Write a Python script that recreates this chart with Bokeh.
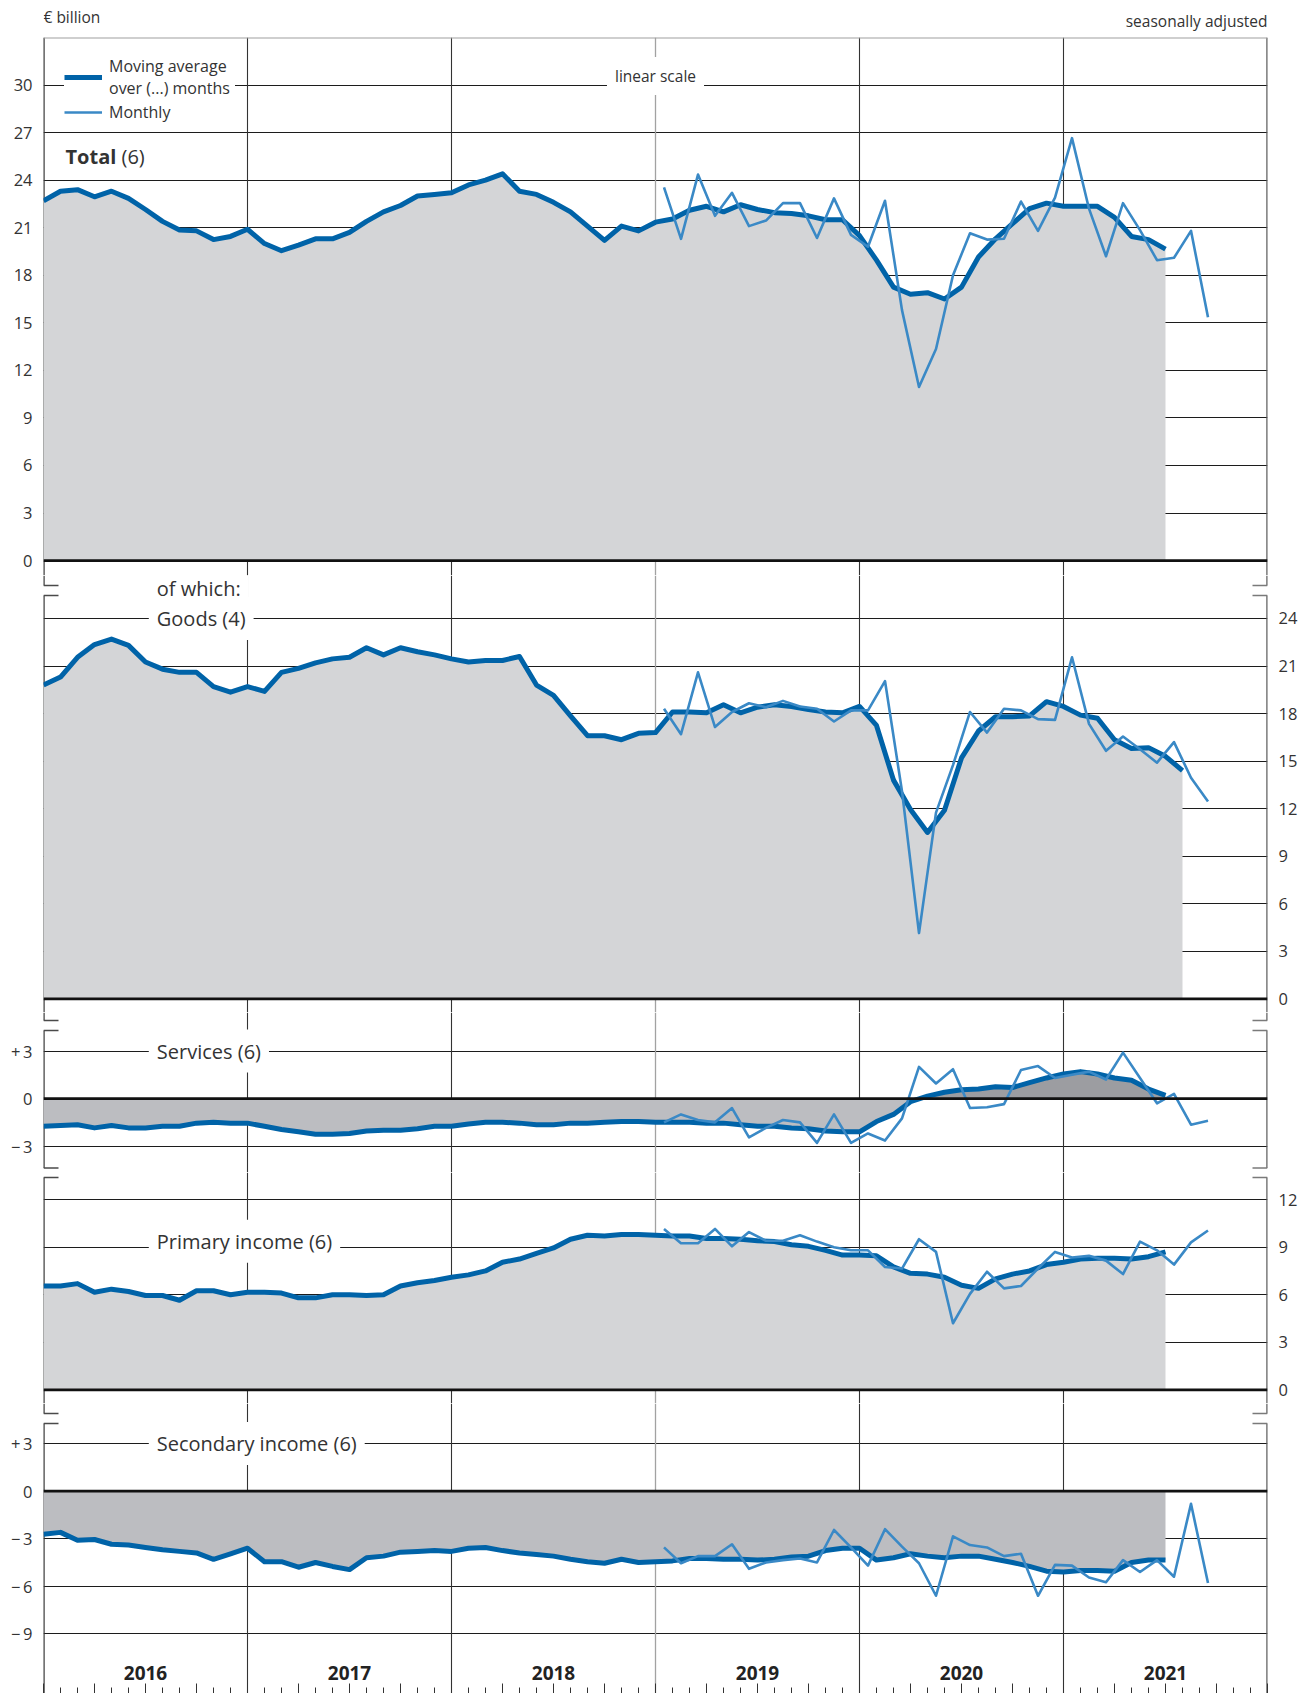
import numpy as np
from bokeh.plotting import figure
from bokeh.models import (Range1d, FixedTicker, Span, Label, Legend, LegendItem,
                          Grid, CustomJSTickFormatter)
from bokeh.layouts import column
from bokeh.embed import file_html
from bokeh.resources import INLINE
from bokeh.core.properties import value

# ---------------- data: € billion, seasonally adjusted ----------------
years = ["2016", "2017", "2018", "2019", "2020", "2021"]

# centred moving averages, one value per month boundary from Jan 2016
total_ma = [22.7, 23.3, 23.4, 22.95, 23.3, 22.85, 22.15, 21.4, 20.85, 20.8,
            20.25, 20.45, 20.9, 20.0, 19.55, 19.9, 20.3, 20.3, 20.7, 21.4,
            22.0, 22.4, 23.0, 23.1, 23.2, 23.7, 24.0, 24.4, 23.3, 23.1,
            22.6, 22.0, 21.1, 20.2, 21.1, 20.8, 21.35, 21.55, 22.1, 22.35,
            22.0, 22.45, 22.15, 21.95, 21.9, 21.75, 21.5, 21.5, 20.5, 18.95,
            17.25, 16.8, 16.9, 16.5, 17.25, 19.15, 20.3, 21.25, 22.2, 22.55,
            22.35, 22.35, 22.35, 21.65, 20.45, 20.25, 19.65]
goods_ma = [19.8, 20.3, 21.55, 22.35, 22.7, 22.3, 21.25, 20.8, 20.6, 20.6,
            19.7, 19.35, 19.7, 19.4, 20.6, 20.85, 21.2, 21.45, 21.55, 22.15,
            21.7, 22.15, 21.9, 21.7, 21.45, 21.25, 21.35, 21.35, 21.6, 19.8,
            19.15, 17.85, 16.6, 16.6, 16.35, 16.75, 16.8, 18.1, 18.1, 18.05,
            18.55, 18.05, 18.4, 18.55, 18.45, 18.25, 18.1, 18.05, 18.45, 17.25,
            13.8, 11.95, 10.5, 11.9, 15.2, 16.9, 17.8, 17.8, 17.85, 18.75,
            18.45, 17.9, 17.7, 16.35, 15.8, 15.85, 15.3, 14.4]
services_ma = [-1.75, -1.7, -1.65, -1.85, -1.7, -1.85, -1.85, -1.75, -1.75, -1.55,
               -1.5, -1.55, -1.55, -1.75, -1.95, -2.1, -2.25, -2.25, -2.2, -2.05,
               -2.0, -2.0, -1.9, -1.75, -1.75, -1.6, -1.5, -1.5, -1.55, -1.65,
               -1.65, -1.55, -1.55, -1.5, -1.45, -1.45, -1.5, -1.5, -1.5, -1.55,
               -1.55, -1.65, -1.75, -1.75, -1.85, -1.9, -2.05, -2.1, -2.1, -1.45,
               -1.0, -0.2, 0.15, 0.4, 0.55, 0.6, 0.75, 0.7, 1.0, 1.3,
               1.55, 1.7, 1.55, 1.3, 1.15, 0.6, 0.2]
primary_ma = [6.55, 6.55, 6.7, 6.15, 6.35, 6.2, 5.95, 5.95, 5.65, 6.25,
              6.25, 6.0, 6.15, 6.15, 6.1, 5.8, 5.8, 6.0, 6.0, 5.95,
              6.0, 6.55, 6.75, 6.9, 7.1, 7.25, 7.5, 8.05, 8.25, 8.6,
              8.95, 9.5, 9.75, 9.7, 9.8, 9.8, 9.75, 9.7, 9.7, 9.55,
              9.55, 9.5, 9.4, 9.35, 9.15, 9.05, 8.8, 8.5, 8.5, 8.45,
              7.75, 7.35, 7.3, 7.1, 6.6, 6.4, 7.0, 7.3, 7.5, 7.9,
              8.05, 8.25, 8.3, 8.3, 8.25, 8.4, 8.7]
secondary_ma = [-2.72, -2.6, -3.1, -3.05, -3.35, -3.4, -3.55, -3.7, -3.8, -3.9,
                -4.3, -3.95, -3.6, -4.45, -4.45, -4.8, -4.5, -4.75, -4.95, -4.2,
                -4.1, -3.85, -3.8, -3.75, -3.8, -3.6, -3.55, -3.75, -3.9, -4.0,
                -4.1, -4.3, -4.45, -4.55, -4.3, -4.5, -4.45, -4.4, -4.25, -4.25,
                -4.3, -4.3, -4.35, -4.3, -4.15, -4.1, -3.75, -3.6, -3.6, -4.35,
                -4.2, -3.95, -4.1, -4.2, -4.1, -4.1, -4.3, -4.5, -4.75, -5.05,
                -5.1, -5.0, -5.0, -5.05, -4.5, -4.35, -4.35]

# monthly values, Jan 2019 - Sep 2021
monthly_first = 36  # months after Jan 2016
total_monthly = [23.55, 20.3, 24.35, 21.75, 23.2, 21.1, 21.45, 22.55, 22.55, 20.35,
                 22.85, 20.55, 19.8, 22.7, 15.8, 10.95, 13.35, 18.0, 20.65, 20.25,
                 20.3, 22.65, 20.8, 22.9, 26.65, 22.2, 19.2, 22.55, 20.85, 18.95,
                 19.1, 20.8, 15.35]
goods_monthly = [18.3, 16.7, 20.6, 17.15, 18.1, 18.65, 18.4, 18.8, 18.45, 18.3,
                 17.5, 18.2, 18.2, 20.05, 13.1, 4.15, 11.75, 14.75, 18.1, 16.8,
                 18.3, 18.2, 17.65, 17.6, 21.55, 17.35, 15.65, 16.55, 15.75, 14.9,
                 16.2, 13.95, 12.45]
services_monthly = [-1.5, -1.0, -1.35, -1.5, -0.6, -2.45, -1.85, -1.35, -1.5, -2.8,
                    -1.0, -2.8, -2.2, -2.65, -1.25, 2.0, 0.95, 1.85, -0.6, -0.55,
                    -0.35, 1.8, 2.05, 1.3, 1.5, 1.7, 1.2, 2.9, 1.3, -0.3,
                    0.3, -1.65, -1.4]
primary_monthly = [10.15, 9.25, 9.25, 10.15, 9.05, 9.95, 9.4, 9.4, 9.75, 9.35,
                   9.0, 8.8, 8.8, 7.75, 7.65, 9.5, 8.7, 4.2, 6.05, 7.45,
                   6.4, 6.55, 7.65, 8.7, 8.35, 8.45, 8.15, 7.3, 9.35, 8.8,
                   7.9, 9.3, 10.05]
secondary_monthly = [-3.55, -4.55, -4.1, -4.1, -3.35, -4.9, -4.5, -4.35, -4.25, -4.5,
                     -2.45, -3.55, -4.7, -2.4, -3.5, -4.55, -6.6, -2.85, -3.4, -3.55,
                     -4.1, -3.95, -6.6, -4.65, -4.7, -5.45, -5.75, -4.35, -5.1, -4.35,
                     -5.4, -0.8, -5.8]

# ---------------- styling ----------------
FONT = "Open Sans"
TXT = "#333333"
MA_COLOR = "#0063a8"
MON_COLOR = "#3a89c6"
FILL_LIGHT = "#d4d5d7"
FILL_NEG = "#bcbdc1"
FILL_DARK = "#9c9da1"
GRID_COLOR = "#1c1c1c"
PX = 15.85            # pixels per € billion
FRAME_W = 1224
N_MONTHS = 72
BORDER_L = 43
BORDER_R = 32
TICK_LEN = 15 / (FRAME_W / N_MONTHS)
LABEL_PAD = 8


def signed_formatter():
    return CustomJSTickFormatter(code="""
        if (tick > 0) return '+\u2009' + tick;
        if (tick < 0) return '\u2212\u2009' + Math.abs(tick);
        return '0';
    """)


def panel(y_top, fh, side, ticks, grids, pieces, signed=False, with_xaxis=False):
    y_bot = y_top - fh / PX
    p = figure(frame_width=FRAME_W, frame_height=fh,
               x_range=Range1d(0, N_MONTHS), y_range=Range1d(y_bot, y_top),
               x_axis_location="below" if with_xaxis else None,
               y_axis_location=side, title=None,
               toolbar_location=None, output_backend="svg",
               min_border_left=BORDER_L, min_border_right=BORDER_R,
               min_border_top=0, min_border_bottom=0,
               outline_line_color=None, background_fill_color="white",
               border_fill_color="white")
    p.grid.visible = False
    ax = p.yaxis[0]
    ax.ticker = FixedTicker(ticks=ticks)
    if signed:
        ax.formatter = signed_formatter()
    ax.axis_line_color = None
    ax.major_tick_in = 0
    ax.major_tick_out = 0
    ax.minor_tick_line_color = None
    ax.major_tick_line_color = None
    ax.major_label_standoff = 11
    ax.major_label_text_font = FONT
    ax.major_label_text_font_size = "16.5px"
    ax.major_label_text_color = TXT

    p.add_layout(Grid(dimension=1, ticker=FixedTicker(ticks=grids),
                      grid_line_color=GRID_COLOR, grid_line_width=1.1))
    p.add_layout(Grid(dimension=0, ticker=FixedTicker(ticks=[12, 24, 48, 60]),
                      grid_line_color="#333333", grid_line_width=1.1))
    p.add_layout(Grid(dimension=0, ticker=FixedTicker(ticks=[36]),
                      grid_line_color="#a2a2a2", grid_line_width=1.3))

    def yp(px):
        return y_top - px / PX

    for (a, b, ta, tb) in pieces:
        for xb, xt, col, tcol in ((0, TICK_LEN, "#3a3a3a", "#4a4a4a"),
                                  (N_MONTHS, N_MONTHS - TICK_LEN, "#5a5a5a", "#7a7a7a")):
            p.segment(x0=[xb], y0=[yp(a)], x1=[xb], y1=[yp(b)],
                      line_color=col, line_width=2.4)
            if ta:
                p.segment(x0=[xb], y0=[yp(a)], x1=[xt], y1=[yp(a)],
                          line_color=tcol, line_width=1.4)
            if tb:
                p.segment(x0=[xb], y0=[yp(b)], x1=[xt], y1=[yp(b)],
                          line_color=tcol, line_width=1.4)
    return p


def series(p, ma, monthly, pos_fill, neg_fill):
    k = np.arange(len(ma))
    ma_arr = np.array(ma)
    if pos_fill is not None:
        p.varea(x=k, y1=0, y2=np.maximum(ma_arr, 0), fill_color=pos_fill)
    if neg_fill is not None:
        p.varea(x=k, y1=0, y2=np.minimum(ma_arr, 0), fill_color=neg_fill)
    p.add_layout(Span(location=0, dimension="width", line_color="#111111",
                      line_width=2.8))
    r_ma = p.line(k, ma_arr, line_color=MA_COLOR, line_width=5, line_join="round")
    xm = monthly_first + 0.5 + np.arange(len(monthly))
    r_mon = p.line(xm, monthly, line_color=MON_COLOR, line_width=2.6, line_join="round")
    return r_ma, r_mon


def panel_label(p, x, y, text, size="20px", bold=False, bg=True, yoff=0, xoff=0):
    lab = Label(x=x, y=y, text=text, text_font=FONT, text_font_size=size,
                text_color=TXT, text_baseline="middle", text_align="left",
                x_offset=xoff - (LABEL_PAD if bg else 0), y_offset=yoff,
                text_font_style="bold" if bold else "normal")
    if bg:
        lab.background_fill_color = "white"
        lab.padding = LABEL_PAD
    p.add_layout(lab)
    return lab


LX = (156 - 42.7) / (FRAME_W / N_MONTHS)   # left edge of panel captions

# ---- header with unit / adjustment notes ----
head = figure(frame_width=FRAME_W, frame_height=37, x_range=Range1d(0, N_MONTHS),
              y_range=Range1d(0, 37), x_axis_location=None, y_axis_location=None,
              title=None, toolbar_location=None, output_backend="svg",
              min_border_left=BORDER_L, min_border_right=BORDER_R,
              min_border_top=0, min_border_bottom=0, outline_line_color=None)
head.grid.visible = False
head.add_layout(Label(x=0, y=21, text="€ billion", text_font=FONT, text_font_size="15.5px",
                      text_color=TXT, text_align="left", text_baseline="middle"))
head.add_layout(Label(x=N_MONTHS, y=17, text="seasonally adjusted", text_font=FONT,
                      text_font_size="15.5px", text_color=TXT, text_align="right",
                      text_baseline="middle"))

# ---- Panel 1: Total ----
p1 = panel(33, 538, "left", list(range(0, 31, 3)), list(range(3, 31, 3)),
           [(0, 538, False, False)])
p1.add_layout(Span(location=33, dimension="width", line_color="#9f9f9f", line_width=2))
r_ma, r_mon = series(p1, total_ma, total_monthly, FILL_LIGHT, None)
legend = Legend(items=[LegendItem(label="Moving average\nover (...) months", renderers=[r_ma]),
                       LegendItem(label="Monthly", renderers=[r_mon])],
                location=(21, 452), margin=0, padding=7, spacing=2,
                glyph_width=38, label_standoff=7, label_width=126,
                label_text_font=FONT, label_text_font_size="16px",
                label_text_color=TXT, background_fill_color="white",
                background_fill_alpha=1.0, border_line_color=None)
p1.add_layout(legend)
panel_label(p1, (64.7 - 42.7) / 17, 25.5, "Total", bold=True, bg=False)
panel_label(p1, (64.7 - 42.7) / 17, 25.5, "(6)", bg=False, xoff=56)
p1.add_layout(Label(x=36, y=30, text="linear scale", text_font=FONT,
                    text_font_size="15.5px", text_color=TXT, text_align="center",
                    text_baseline="middle", y_offset=9,
                    background_fill_color="white", padding=8))

# ---- Panel 2: Goods ----
p2_top = 26.71
p2 = panel(p2_top, 437, "right", list(range(0, 25, 3)), list(range(3, 25, 3)),
           [(0, 10, False, True), (20, 437, True, False)])
series(p2, goods_ma, goods_monthly, FILL_LIGHT, None)
panel_label(p2, LX, p2_top - 13 / PX, "of which:")
panel_label(p2, LX, 24, "Goods (4)")

# ---- Panel 3: Services ----
p3 = panel(5.43, 160, "left", [-3, 0, 3], [-3, 3],
           [(0, 8, False, True), (18, 155.5, True, True)], signed=True)
series(p3, services_ma, services_monthly, FILL_DARK, FILL_NEG)
panel_label(p3, LX, 3, "Services (6)")

# ---- Panel 4: Primary income ----
p4 = panel(13.71, 231, "right", list(range(0, 13, 3)), list(range(3, 13, 3)),
           [(5, 231, True, False)])
series(p4, primary_ma, primary_monthly, FILL_LIGHT, None)
panel_label(p4, LX, 9, "Primary income (6)", yoff=6)

# ---- Panel 5: Secondary income ----
p5 = panel(5.53, 290, "left", [-9, -6, -3, 0, 3], [-9, -6, -3, 3],
           [(0, 10, False, True), (20, 290, True, False)],
           signed=True, with_xaxis=True)
series(p5, secondary_ma, secondary_monthly, None, FILL_NEG)
panel_label(p5, LX, 3, "Secondary income (6)")
xa = p5.xaxis[0]
xa.ticker = FixedTicker(ticks=list(range(0, N_MONTHS + 1, 3)),
                        minor_ticks=list(range(0, N_MONTHS + 1)))
xa.major_tick_in = 10
xa.major_tick_out = 0
xa.minor_tick_in = 6
xa.minor_tick_out = 0
xa.axis_line_color = None
xa.major_tick_line_color = "#333333"
xa.minor_tick_line_color = "#333333"
xa.major_label_text_color = None
xa.major_label_text_font_size = "1px"
xa.major_label_standoff = 0
p5.text(x=np.arange(len(years)) * 12 + 6, y=np.full(len(years), -11.5), text=years,
        text_font=value(FONT), text_font_size="19px", text_font_style="bold",
        text_color="#222222", text_align="center", text_baseline="middle")

layout = column(head, p1, p2, p3, p4, p5, spacing=0)
open("out.html", "w").write(file_html(layout, INLINE))
